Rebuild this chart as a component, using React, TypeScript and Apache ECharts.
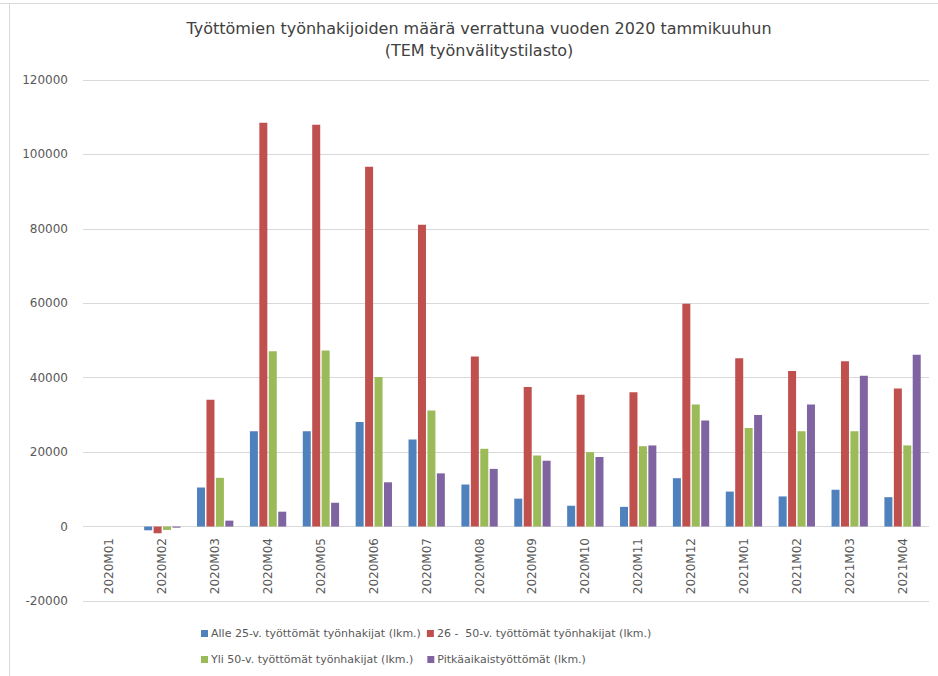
import React, { useEffect, useRef } from "react";
import * as echarts from "echarts";

const categories = [
  "2020M01", "2020M02", "2020M03", "2020M04", "2020M05", "2020M06", "2020M07", "2020M08",
  "2020M09", "2020M10", "2020M11", "2020M12", "2021M01", "2021M02", "2021M03", "2021M04",
];

const seriesNames = [
  "Alle 25-v. työttömät työnhakijat (lkm.)",
  "26 -  50-v. työttömät työnhakijat (lkm.)",
  "Yli 50-v. työttömät työnhakijat (lkm.)",
  "Pitkäaikaistyöttömät (lkm.)",
];

const under25 = [0, -1000, 10500, 25600, 25600, 28100, 23400, 11300, 7500, 5600, 5300, 13000, 9400, 8100, 9900, 7900];
const age26to50 = [0, -1800, 34100, 108500, 108000, 96700, 81100, 45700, 37500, 35400, 36100, 59900, 45200, 41800, 44400, 37100];
const over50 = [0, -900, 13100, 47100, 47300, 40200, 31200, 20900, 19100, 20000, 21600, 32800, 26500, 25600, 25600, 21800];
const longTerm = [0, -300, 1600, 4000, 6400, 11900, 14300, 15500, 17700, 18700, 21800, 28500, 30000, 32800, 40500, 46200];

const colors = ["#4F81BD", "#C0504D", "#9BBB59", "#8064A2"];

const FONT = "'DejaVu Sans', 'Open Sans', sans-serif";

export default function App() {
  const ref = useRef<HTMLDivElement>(null);

  useEffect(() => {
    if (!ref.current) return;
    const chart = echarts.init(ref.current, null, { renderer: "svg" });
    const data = [under25, age26to50, over50, longTerm];
    chart.setOption({
      animation: false,
      backgroundColor: "#ffffff",
      textStyle: { fontFamily: FONT },
      title: {
        text: "Työttömien työnhakijoiden määrä verrattuna vuoden 2020 tammikuuhun\n(TEM työnvälitystilasto)",
        left: 474,
        textAlign: "center",
        top: 12,
        textStyle: {
          fontFamily: FONT,
          fontSize: 16,
          fontWeight: "normal",
          color: "#404040",
          lineHeight: 22,
        },
      },
      graphic: [
        { type: "line", shape: { x1: 0, y1: 3.5, x2: 938, y2: 3.5 }, style: { stroke: "#d9d9d9", lineWidth: 1 } },
        { type: "line", shape: { x1: 9.5, y1: 3, x2: 9.5, y2: 676 }, style: { stroke: "#d9d9d9", lineWidth: 1 } },
      ],
      legend: [
        {
          data: [seriesNames[0], seriesNames[1]],
          left: 196,
          top: 623,
          itemWidth: 7,
          itemHeight: 7,
          itemGap: 6,
          icon: "rect",
          textStyle: { fontFamily: FONT, fontSize: 11, color: "#595959", padding: [0, 0, 0, -2] },
        },
        {
          data: [seriesNames[2], seriesNames[3]],
          left: 196,
          top: 649,
          itemWidth: 7,
          itemHeight: 7,
          itemGap: 14,
          icon: "rect",
          textStyle: { fontFamily: FONT, fontSize: 11, color: "#595959", padding: [0, 0, 0, -2] },
        },
      ],
      grid: { left: 83, right: 9, top: 80, bottom: 75, containLabel: false },
      xAxis: {
        type: "category",
        data: categories,
        axisLine: { show: false, onZero: false },
        axisTick: { show: false },
        axisLabel: {
          rotate: 90,
          fontSize: 12,
          color: "#595959",
          margin: -63,
          fontFamily: FONT,
        },
      },
      yAxis: {
        type: "value",
        min: -20000,
        max: 120000,
        interval: 20000,
        axisLine: { show: false },
        axisTick: { show: false },
        splitLine: { lineStyle: { color: "#d9d9d9" } },
        axisLabel: {
          fontSize: 12,
          color: "#595959",
          margin: 15,
          fontFamily: FONT,
          formatter: (v: number) => String(v),
        },
      },
      series: seriesNames.map((name, i) => ({
        name,
        type: "bar",
        data: data[i],
        barWidth: 8,
        barGap: "18%",
        itemStyle: { color: colors[i] },
      })),
    });
    return () => chart.dispose();
  }, []);

  return (
    <div
      ref={ref}
      style={{ position: "fixed", left: 0, top: 0, width: 938, height: 676 }}
    />
  );
}
